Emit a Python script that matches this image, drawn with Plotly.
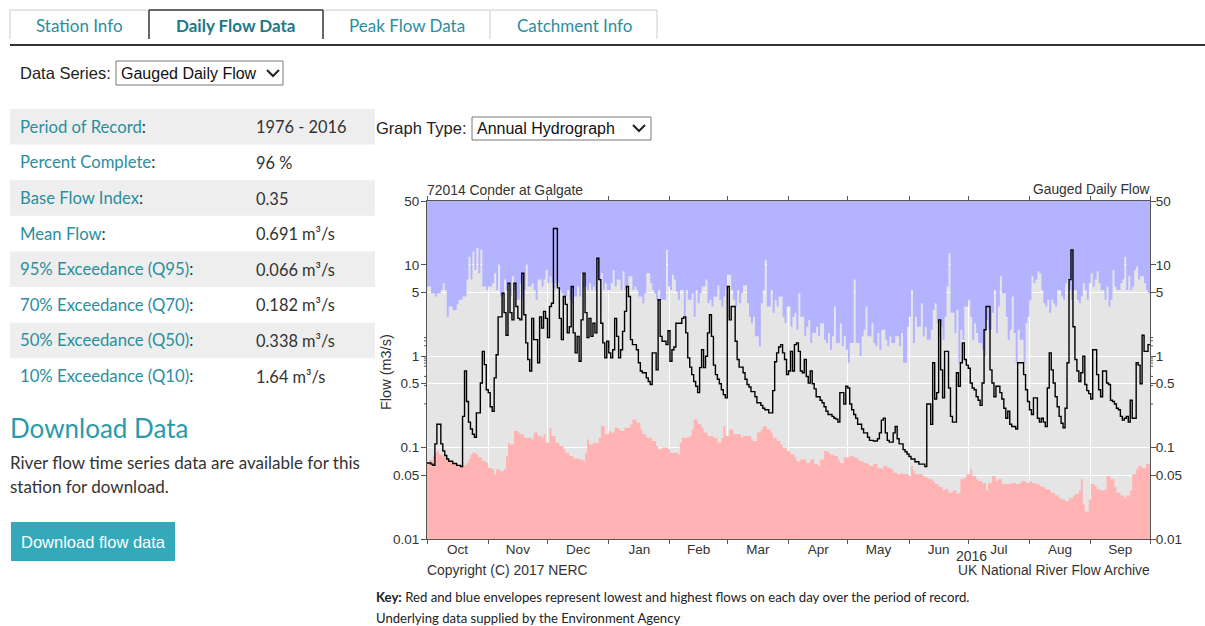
import math
import plotly.graph_objects as go

# ---------------- data (water year Oct 2015 - Sep 2016) ----------------
flow_md = ["10-01","10-03","10-04","10-05","10-06","10-08","10-09","10-10","10-11","10-12","10-14","10-16","10-18","10-19","10-20","10-21","10-22","10-23","10-24","10-25","10-26","10-28","10-29","10-30","10-31",
"11-01","11-02","11-03","11-04","11-05","11-06","11-08","11-09","11-10","11-11","11-12","11-13","11-14","11-15","11-16","11-17","11-18","11-19","11-20","11-21","11-22","11-23","11-24","11-26","11-27","11-28","11-29","11-30",
"12-01","12-02","12-03","12-04","12-06","12-07","12-08","12-09","12-10","12-11","12-12","12-13","12-14","12-15","12-16","12-17","12-18","12-19","12-20","12-21","12-22","12-23","12-24","12-25","12-26","12-27","12-28","12-29","12-30","12-31",
"01-01","01-02","01-03","01-04","01-05","01-06","01-07","01-08","01-09","01-10","01-11","01-12","01-13","01-15","01-16","01-17","01-18","01-20","01-21","01-22","01-23","01-25","01-26","01-27","01-28","01-30","01-31",
"02-01","02-02","02-03","02-04","02-07","02-08","02-09","02-10","02-11","02-12","02-13","02-14","02-15","02-16","02-17","02-18","02-19","02-20","02-21","02-22","02-23","02-24","02-25","02-26","02-27","02-28","02-29",
"03-01","03-02","03-03","03-05","03-06","03-07","03-09","03-10","03-11","03-12","03-13","03-15","03-16","03-18","03-19","03-20","03-22","03-24","03-25","03-26","03-27","03-28","03-29","03-30","03-31",
"04-01","04-02","04-03","04-04","04-05","04-06","04-07","04-08","04-09","04-10","04-11","04-12","04-13","04-14","04-15","04-17","04-18","04-19","04-20","04-21","04-23","04-24","04-25","04-26","04-27","04-29","04-30",
"05-01","05-02","05-03","05-04","05-05","05-06","05-08","05-09","05-11","05-12","05-14","05-16","05-17","05-18","05-19","05-20","05-21","05-22","05-24","05-25","05-26","05-27","05-29","05-30","05-31",
"06-01","06-02","06-04","06-06","06-09","06-10","06-12","06-13","06-14","06-15","06-16","06-17","06-18","06-19","06-21","06-22","06-23","06-25","06-26","06-27","06-28","06-29","06-30",
"07-01","07-02","07-03","07-04","07-05","07-06","07-07","07-08","07-09","07-10","07-12","07-13","07-14","07-15","07-17","07-18","07-19","07-20","07-21","07-22","07-23","07-25","07-26","07-29","07-30","07-31",
"08-01","08-02","08-03","08-05","08-06","08-07","08-08","08-09","08-10","08-11","08-12","08-13","08-14","08-15","08-16","08-17","08-18","08-19","08-20","08-21","08-22","08-23","08-24","08-25","08-26","08-27","08-28","08-29","08-30","08-31",
"09-01","09-02","09-04","09-05","09-06","09-07","09-09","09-10","09-11","09-12","09-13","09-14","09-15","09-16","09-17","09-18","09-19","09-20","09-21","09-22","09-24","09-25","09-26","09-27","09-28","09-30"]
flow_vals = [0.068,0.066,0.064,0.11,0.18,0.11,0.092,0.082,0.075,0.071,0.067,0.064,0.062,0.22,0.69,0.32,0.19,0.16,0.14,0.13,0.24,0.51,1.13,0.81,0.43,
0.40,0.28,0.25,0.58,1.04,2.7,4.9,3.0,1.7,6.3,3.0,2.5,6.3,3.5,2.6,2.5,8.1,2.85,1.4,0.92,0.69,2.6,1.52,0.85,2.7,2.04,3.1,2.6,
1.6,3.5,3.8,25,5.6,2.6,1.52,4.5,3.7,1.8,2.1,5.8,1.8,1.09,1.65,0.88,2.5,8.1,3.0,1.6,2.6,1.65,2.3,1.8,11.8,6.9,2.3,1.4,0.96,1.46,
1.09,0.96,1.18,2.6,1.65,0.96,1.18,1.87,3.1,5.8,4.5,1.52,1.34,1.18,0.85,0.69,0.66,0.58,0.53,0.49,1.09,0.71,4.15,1.65,1.46,1.34,1.9,
0.88,1.18,1.26,2.3,2.6,2.7,1.8,0.96,0.76,0.63,0.53,0.47,0.40,0.75,1.18,0.75,1.0,1.8,2.85,1.65,0.8,0.63,0.56,0.5,0.43,0.38,0.35,
5.8,2.5,3.5,1.46,0.92,0.76,0.66,0.56,0.49,0.46,0.41,0.36,0.31,0.29,0.27,0.26,0.24,0.42,0.87,1.09,1.26,1.34,1.09,0.92,0.63,
0.69,1.13,0.69,1.34,1.4,1.13,0.69,0.66,0.92,0.6,0.51,0.69,0.5,0.44,0.36,0.33,0.31,0.28,0.25,0.23,0.22,0.21,0.205,0.19,0.40,0.30,0.47,
0.45,0.30,0.26,0.23,0.21,0.18,0.16,0.145,0.13,0.12,0.118,0.125,0.145,0.2,0.21,0.145,0.12,0.115,0.145,0.17,0.125,0.11,0.095,0.09,0.085,
0.08,0.075,0.07,0.066,0.062,0.3,0.18,0.85,0.34,0.4,2.5,0.71,0.35,1.13,0.45,0.22,0.19,0.66,0.47,0.85,1.4,0.92,0.8,
0.74,0.51,0.45,0.43,0.36,0.33,0.29,0.51,1.95,3.5,0.71,0.51,0.36,0.47,0.4,0.34,0.27,0.21,0.25,0.18,0.17,0.16,0.85,0.63,0.43,0.32,
0.26,0.23,0.35,0.21,0.19,0.21,0.19,0.17,0.45,1.09,0.71,0.51,0.36,0.28,0.22,0.185,0.165,0.27,0.85,6.9,14.6,2.1,0.92,0.69,0.53,0.66,1.0,0.49,0.42,0.39,
0.34,1.18,0.63,0.43,0.36,0.69,0.51,0.49,0.33,0.32,0.3,0.27,0.26,0.22,0.2,0.21,0.22,0.19,0.33,0.21,0.85,0.8,0.5,1.7,1.13,1.34]

min_md = ["10-01","10-02","10-04","10-05","10-06","10-07","10-09","10-10","10-12","10-14","10-16","10-17","10-19","10-21","10-22","10-23","10-24","10-26","10-27","10-29","10-31",
"11-01","11-03","11-04","11-05","11-07","11-09","11-10","11-11","11-12","11-14","11-16","11-17","11-19","11-23","11-24","11-26","11-28","11-29","11-30",
"12-02","12-03","12-05","12-07","12-09","12-10","12-12","12-14","12-17","12-19","12-20","12-21","12-22","12-24","12-27","12-28","12-30",
"01-01","01-02","01-04","01-06","01-07","01-09","01-12","01-13","01-15","01-17","01-18","01-20","01-23","01-25","01-26","01-28","01-31",
"02-01","02-05","02-06","02-07","02-11","02-12","02-13","02-15","02-17","02-18","02-20","02-23","02-25","02-27","02-28","02-29",
"03-02","03-04","03-08","03-09","03-13","03-14","03-16","03-18","03-19","03-21","03-23","03-24","03-26","03-28","03-29","03-31",
"04-02","04-04","04-05","04-07","04-10","04-12","04-14","04-16","04-17","04-19","04-21","04-22","04-24","04-26","04-27","04-29",
"05-02","05-04","05-06","05-07","05-09","05-11","05-12","05-14","05-16","05-18","05-19","05-21","05-23","05-24","05-26","05-28","05-29",
"06-01","06-02","06-03","06-04","06-08","06-09","06-11","06-13","06-14","06-16","06-18","06-19","06-21","06-23","06-25","06-26","06-27","06-29","06-30",
"07-02","07-03","07-05","07-06","07-08","07-10","07-11","07-13","07-15","07-16","07-18","07-23","07-25","07-27","07-28","07-30",
"08-01","08-02","08-04","08-06","08-07","08-09","08-11","08-12","08-14","08-16","08-17","08-19","08-21","08-23","08-24","08-26","08-27","08-28","08-29","08-31",
"09-01","09-03","09-04","09-06","09-08","09-09","09-11","09-13","09-14","09-16","09-18","09-19","09-21","09-22","09-24","09-25","09-27","09-29"]
min_vals = [0.068,0.073,0.081,0.088,0.092,0.084,0.081,0.078,0.071,0.068,0.066,0.063,0.064,0.068,0.074,0.084,0.088,0.084,0.078,0.071,0.068,
0.06,0.058,0.051,0.058,0.055,0.058,0.081,0.113,0.108,0.152,0.146,0.14,0.128,0.123,0.146,0.134,0.128,0.14,0.113,
0.165,0.134,0.113,0.104,0.096,0.088,0.081,0.076,0.074,0.071,0.088,0.123,0.108,0.113,0.128,0.172,0.14,
0.152,0.146,0.165,0.158,0.152,0.165,0.18,0.203,0.187,0.158,0.14,0.128,0.118,0.104,0.096,0.1,0.096,
0.088,0.084,0.113,0.128,0.134,0.158,0.203,0.18,0.165,0.146,0.134,0.128,0.113,0.128,0.172,0.134,
0.158,0.14,0.128,0.134,0.123,0.118,0.146,0.158,0.172,0.158,0.146,0.128,0.118,0.108,0.1,0.092,
0.084,0.078,0.071,0.074,0.068,0.074,0.066,0.063,0.074,0.092,0.088,0.084,0.081,0.074,0.068,0.078,
0.081,0.078,0.074,0.071,0.068,0.066,0.063,0.066,0.06,0.058,0.063,0.06,0.058,0.053,0.051,0.053,0.051,
0.049,0.063,0.056,0.051,0.049,0.047,0.045,0.043,0.040,0.037,0.034,0.035,0.032,0.034,0.031,0.032,0.045,0.047,0.051,
0.058,0.049,0.045,0.043,0.041,0.034,0.041,0.049,0.043,0.045,0.040,0.041,0.040,0.041,0.043,0.041,
0.043,0.041,0.040,0.038,0.037,0.035,0.034,0.032,0.030,0.028,0.027,0.026,0.028,0.030,0.031,0.034,0.045,0.024,0.020,0.027,
0.040,0.038,0.035,0.034,0.035,0.049,0.045,0.037,0.032,0.030,0.028,0.030,0.034,0.051,0.058,0.063,0.06,0.066]

max_md = ["10-01","10-03","10-05","10-06","10-08","10-09","10-10","10-11","10-12","10-14","10-16","10-17","10-19","10-21","10-22","10-23","10-24","10-25","10-26","10-27","10-28","10-29","10-31",
"11-01","11-03","11-04","11-05","11-06","11-07","11-09","11-10","11-11","11-12","11-13","11-14","11-15","11-17","11-18","11-19","11-20","11-21","11-23","11-24","11-25","11-26","11-28","11-29","11-30",
"12-01","12-02","12-03","12-04","12-05","12-07","12-08","12-09","12-11","12-12","12-13","12-14","12-16","12-17","12-18","12-19","12-21","12-22","12-23","12-24","12-25","12-26","12-28","12-29","12-30","12-31",
"01-02","01-03","01-04","01-05","01-07","01-08","01-09","01-10","01-11","01-13","01-14","01-15","01-16","01-18","01-19","01-20","01-22","01-23","01-24","01-25","01-26","01-27","01-30","01-31",
"02-01","02-02","02-03","02-04","02-05","02-06","02-08","02-09","02-10","02-12","02-13","02-14","02-15","02-16","02-17","02-19","02-20","02-21","02-22","02-23","02-25","02-26","02-27","02-28","02-29",
"03-01","03-03","03-04","03-05","03-06","03-07","03-08","03-09","03-11","03-12","03-13","03-14","03-15","03-17","03-18","03-19","03-20","03-21","03-23","03-24","03-25","03-26","03-27","03-29","03-30","03-31",
"04-02","04-03","04-04","04-05","04-06","04-07","04-09","04-10","04-11","04-12","04-13","04-15","04-16","04-17","04-19","04-20","04-21","04-22","04-23","04-24","04-25","04-27","04-28","04-29","04-30",
"05-01","05-02","05-04","05-05","05-07","05-08","05-09","05-10","05-11","05-13","05-14","05-15","05-16","05-17","05-18","05-20","05-21","05-22","05-23","05-25","05-27","05-28","05-29","05-31",
"06-01","06-02","06-03","06-04","06-05","06-07","06-08","06-09","06-10","06-12","06-13","06-14","06-15","06-16","06-17","06-18","06-19","06-20","06-21","06-22","06-24","06-25","06-26","06-27","06-28","06-29",
"07-01","07-02","07-03","07-04","07-05","07-06","07-08","07-09","07-10","07-11","07-13","07-14","07-15","07-16","07-17","07-18","07-20","07-21","07-22","07-23","07-24","07-25","07-26","07-27","07-29","07-30","07-31",
"08-01","08-02","08-03","08-04","08-05","08-06","08-07","08-08","08-09","08-10","08-11","08-12","08-13","08-14","08-15","08-17","08-18","08-19","08-20","08-21","08-22","08-23","08-25","08-26","08-27","08-28","08-29","08-30","08-31",
"09-01","09-02","09-03","09-04","09-05","09-06","09-08","09-09","09-10","09-11","09-12","09-13","09-14","09-16","09-17","09-18","09-19","09-20","09-21","09-22","09-23","09-24","09-25","09-26","09-28","09-29","09-30"]
max_vals = [5.8,4.9,4.5,4.9,5.3,6.3,5.3,2.7,3.5,3.2,3.7,4.15,4.5,6.9,12.3,6.9,14,8.8,15.3,8.1,14.6,5.8,5.3,
5.8,6.3,8.1,5.3,10,4.5,6.9,5.3,6.3,4.5,7.5,5.3,4.15,6.3,4.3,5.3,10,5.8,6.3,5.3,4.15,6.9,5.8,6.9,8.8,
6.3,7.5,6.3,5.3,6.3,5.3,4.9,4.5,5.3,4.15,3.8,4.5,5.8,4.5,8.1,5.8,5.3,6.3,5.3,5.8,5.3,6.9,8.1,5.3,6.3,5.3,
6.3,8.8,5.8,6.9,5.3,8.5,5.3,5.8,7.5,5.3,5.8,5.3,4.5,3.8,4.9,8.1,6.3,5.3,4.9,4.15,5.3,4.15,14.6,5.8,
5.3,7.8,6.9,5.1,4.15,5.3,2.7,5.3,4.15,4.9,2.7,5.3,3.8,4.9,5.8,6.9,3.8,4.15,3.5,4.5,6.0,4.15,3.5,4.5,5.8,
7.8,5.3,4.15,3.5,5.3,3.8,4.9,6.0,3.8,2.7,2.3,2.7,1.65,1.29,3.8,5.3,11.3,3.5,5.3,3.0,4.15,3.5,4.5,2.7,2.3,3.5,
2.1,2.7,3.0,1.95,4.9,2.7,1.65,2.1,2.5,1.4,1.8,2.1,1.65,2.3,1.52,1.4,1.8,1.18,1.65,3.5,1.4,2.3,1.29,1.65,1.18,
0.85,1.4,6.9,1.4,1.0,1.65,1.95,3.5,1.65,2.3,1.4,1.29,1.8,1.18,1.95,1.52,1.29,1.65,1.4,1.65,1.29,1.8,0.85,2.1,
2.7,5.3,1.4,2.7,2.1,3.8,1.65,2.1,1.52,1.95,3.2,3.8,2.3,1.65,2.1,1.52,2.7,5.8,13.4,3.0,1.8,3.2,0.85,1.95,1.52,3.5,
4.15,2.7,1.52,2.3,1.8,1.4,1.18,1.0,2.5,1.95,3.0,5.3,1.8,3.5,7.5,4.9,2.7,1.52,1.95,4.5,1.8,0.85,1.95,1.52,0.85,2.3,2.7,
4.15,7.5,6.3,6.9,8.5,8.1,5.3,3.8,3.5,4.15,3.0,4.15,3.8,3.5,5.3,4.5,4.15,6.3,6.9,5.3,4.15,5.3,4.15,3.8,4.5,6.3,5.3,4.15,6.3,
8.1,5.8,6.9,8.5,6.3,5.3,4.15,5.8,3.5,4.15,8.8,5.8,5.3,6.3,6.9,12.3,5.3,7.5,5.3,5.8,8.8,9.6,6.9,7.5,6.3,5.3,4.9]

y_tick_vals = [0.01, 0.05, 0.1, 0.5, 1, 5, 10, 50]
y_tick_text = ["0.01", "0.05", "0.1", "0.5", "1", "5", "10", "50"]
y_minor_vals = [0.02,0.03,0.04,0.06,0.07,0.08,0.09,0.2,0.3,0.4,0.6,0.7,0.8,0.9,2,3,4,6,7,8,9,20,30,40]

table_labels = ["Period of Record", "Percent Complete", "Base Flow Index", "Mean Flow",
                "95% Exceedance (Q95)", "70% Exceedance (Q70)", "50% Exceedance (Q50)", "10% Exceedance (Q10)"]
table_values = ["1976 - 2016", "96 %", "0.35", "0.691 m³/s", "0.066 m³/s", "0.182 m³/s", "0.338 m³/s", "1.64 m³/s"]
tab_names = ["Station Info", "Daily Flow Data", "Peak Flow Data", "Catchment Info"]


def wy(md):
    m = int(md[:2])
    return ("2015-" if m >= 10 else "2016-") + md


START, END = "2015-10-01", "2016-10-01"
flow_x = [wy(d) for d in flow_md]
min_x = [wy(d) for d in min_md]
max_x = [wy(d) for d in max_md]

# ---------------- page geometry (pixels) ----------------
FW, FH = 1205, 626
L, T, R, B = 427, 201, 1150, 539
PW, PH = R - L, B - T


def fx(x):
    return (x - L) / PW


def fy(y):
    return (B - y) / PH


BLUE = "#b3b3ff"
PINK = "#ffb3b3"
GREY = "#e5e5e5"
TEAL = "#2a8e9e"
AX = "#555555"
CHART_FONT = "Liberation Sans"
PAGE_FONT = "Lato"

fig = go.Figure()
fig.add_trace(go.Scatter(x=max_x + [END, START], y=max_vals + [1000, 1000], mode="lines",
                         line=dict(width=0, shape="hv"), fill="toself", fillcolor=BLUE,
                         hoverinfo="skip", showlegend=False))
fig.add_trace(go.Scatter(x=min_x + [END, START], y=min_vals + [1e-4, 1e-4], mode="lines",
                         line=dict(width=0, shape="hv"), fill="toself", fillcolor=PINK,
                         hoverinfo="skip", showlegend=False))
fig.add_trace(go.Scatter(x=flow_x + [END], y=flow_vals + [flow_vals[-1]], mode="lines",
                         line=dict(color="black", width=1.4, shape="hv"),
                         hoverinfo="skip", showlegend=False))
fig.add_trace(go.Scatter(x=[START], y=[1], yaxis="y2", mode="markers",
                         marker=dict(opacity=0), hoverinfo="skip", showlegend=False))

yrange = [-2, math.log10(50)]
tickfont = dict(family=CHART_FONT, size=13.5, color="#333333")

fig.update_layout(
    width=FW, height=FH,
    margin=dict(l=L, r=FW - R, t=T, b=FH - B, pad=0),
    paper_bgcolor="white", plot_bgcolor=GREY,
    showlegend=False,
    xaxis=dict(type="date", range=[START, END], tick0=START, dtick="M1",
               ticklabelmode="period", tickformat="%b", ticks="outside", ticklen=4,
               tickcolor=AX, showline=True, linecolor=AX, linewidth=1, mirror="ticks",
               showgrid=True, gridcolor="white", gridwidth=1, tickfont=tickfont,
               ticklabelstandoff=-6, fixedrange=True, zeroline=False),
    yaxis=dict(type="log", range=yrange, tickmode="array", tickvals=y_tick_vals,
               ticktext=y_tick_text, ticks="outside", ticklen=5, tickcolor=AX,
               showline=True, linecolor=AX, linewidth=1, showgrid=True,
               gridcolor="white", gridwidth=1, tickfont=tickfont,
               ticklabelstandoff=-1, fixedrange=True, zeroline=False),
    yaxis2=dict(type="log", range=yrange, overlaying="y", side="right", tickmode="array",
                tickvals=y_tick_vals, ticktext=y_tick_text, ticks="outside", ticklen=5,
                tickcolor=AX, showline=True, linecolor=AX, linewidth=1, showgrid=False,
                tickfont=tickfont, ticklabelstandoff=-3, fixedrange=True, zeroline=False),
)

shapes = []
annotations = []

# minor log ticks on both vertical axes
for v in y_minor_vals:
    lv = math.log10(v)
    for x0, x1 in ((fx(L - 3), fx(L)), (fx(R), fx(R + 3))):
        shapes.append(dict(type="line", xref="paper", yref="y", x0=x0, x1=x1, y0=lv, y1=lv,
                           line=dict(color=AX, width=1), layer="above"))


def line(x0, y0, x1, y1, color, width=1):
    shapes.append(dict(type="line", xref="paper", yref="paper", x0=fx(x0), y0=fy(y0),
                       x1=fx(x1), y1=fy(y1), line=dict(color=color, width=width), layer="above"))


def rect(x0, y0, x1, y1, fill, lcolor=None, lwidth=0):
    shapes.append(dict(type="rect", xref="paper", yref="paper", x0=fx(x0), y0=fy(y0),
                       x1=fx(x1), y1=fy(y1), fillcolor=fill,
                       line=dict(color=lcolor or fill, width=lwidth), layer="below"))


def text(x, y, s, size, color, family=PAGE_FONT, xanchor="left", angle=0, weight="normal"):
    dx = -2 if xanchor == "left" else (2 if xanchor == "right" else 0)
    annotations.append(dict(x=fx(x + dx), y=fy(y), xref="paper", yref="paper", text=s,
                            showarrow=False, xanchor=xanchor, yanchor="middle",
                            textangle=angle,
                            font=dict(family=family, size=size, color=color, weight=weight)))


def chevron(xc, yc, color="#222222"):
    shapes.append(dict(type="path", xref="paper", yref="paper",
                       path=f"M {fx(xc-6)},{fy(yc-3)} L {fx(xc)},{fy(yc+3)} L {fx(xc+6)},{fy(yc-3)}",
                       line=dict(color=color, width=2), layer="above"))


# tabs
tab_x = [(10, 148), (149, 323), (324, 490), (491, 657)]
for i, (name, (a, b)) in enumerate(zip(tab_names, tab_x)):
    if i == 1:
        line(a, 10, b, 10, "#333333", 1.5)
        line(a, 10, a, 39, "#333333", 1.5)
        line(b, 10, b, 39, "#333333", 1.5)
        text((a + b) / 2, 26, f"<b>{name}</b>", 17, "#1d7888", xanchor="center")
    else:
        line(a, 10, b, 10, "#cccccc", 1)
        if i == 0:
            line(a, 10, a, 39, "#cccccc", 1)
        else:
            line(b, 10, b, 39, "#cccccc", 1)
        text((a + b) / 2, 25, name, 17, TEAL, xanchor="center")
line(10, 45, FW, 45, "#333333", 2)

# data series select
text(20, 73, "Data Series:", 16.5, "#222222", family=CHART_FONT)
rect(116, 61, 283, 85, "white", "#767676", 1)
text(121, 73, "Gauged Daily Flow", 16, "#111111", family=CHART_FONT)
chevron(273, 73)

# table
for i, (lab, val) in enumerate(zip(table_labels, table_values)):
    y0 = 109 + i * 35.6
    if i % 2 == 0:
        rect(10, y0, 375, y0 + 35.6, "#eeeeee")
    yc = y0 + 17.8
    text(20, yc, f"{lab}<span style='color:#333333'>:</span>", 16.7, TEAL)
    text(256, yc, val, 16.4, "#333333")

# download section
text(10, 428, "Download Data", 26, "#2a9aab")
text(10, 462, "River flow time series data are available for this", 17, "#333333")
text(10, 486, "station for download.", 17, "#333333")
rect(11, 522, 175, 561, "#34a9ba")
text(93, 542, "Download flow data", 16.5, "white", family=CHART_FONT, xanchor="center")

# graph type select
text(376, 128, "Graph Type:", 16.5, "#222222", family=CHART_FONT)
rect(472, 117, 651, 140, "white", "#767676", 1)
text(477, 128.5, "Annual Hydrograph", 16, "#111111", family=CHART_FONT)
chevron(639, 128)

# chart texts
text(427, 190, "72014 Conder at Galgate", 13.9, "#333333", family=CHART_FONT)
text(1150, 190, "Gauged Daily Flow", 13.8, "#333333", family=CHART_FONT, xanchor="right")
text(386, 372, "Flow (m3/s)", 14.5, "#333333", family=CHART_FONT, xanchor="center", angle=-90)
text(971, 556, "2016", 14, "#333333", family=CHART_FONT, xanchor="center")
text(427, 570, "Copyright (C) 2017 NERC", 13.9, "#333333", family=CHART_FONT)
text(1150, 570, "UK National River Flow Archive", 13.8, "#333333", family=CHART_FONT, xanchor="right")

# key
text(376, 597, "<b>Key:</b> Red and blue envelopes represent lowest and highest flows on each day over the period of record.",
     13.2, "#222222")
text(376, 618, "Underlying data supplied by the Environment Agency", 13.1, "#222222")

fig.update_layout(shapes=shapes, annotations=annotations)

fig.write_html("out.html", config={"displayModeBar": False, "staticPlot": True},
               post_script="document.body.style.margin='0';document.body.style.overflow='hidden';")
